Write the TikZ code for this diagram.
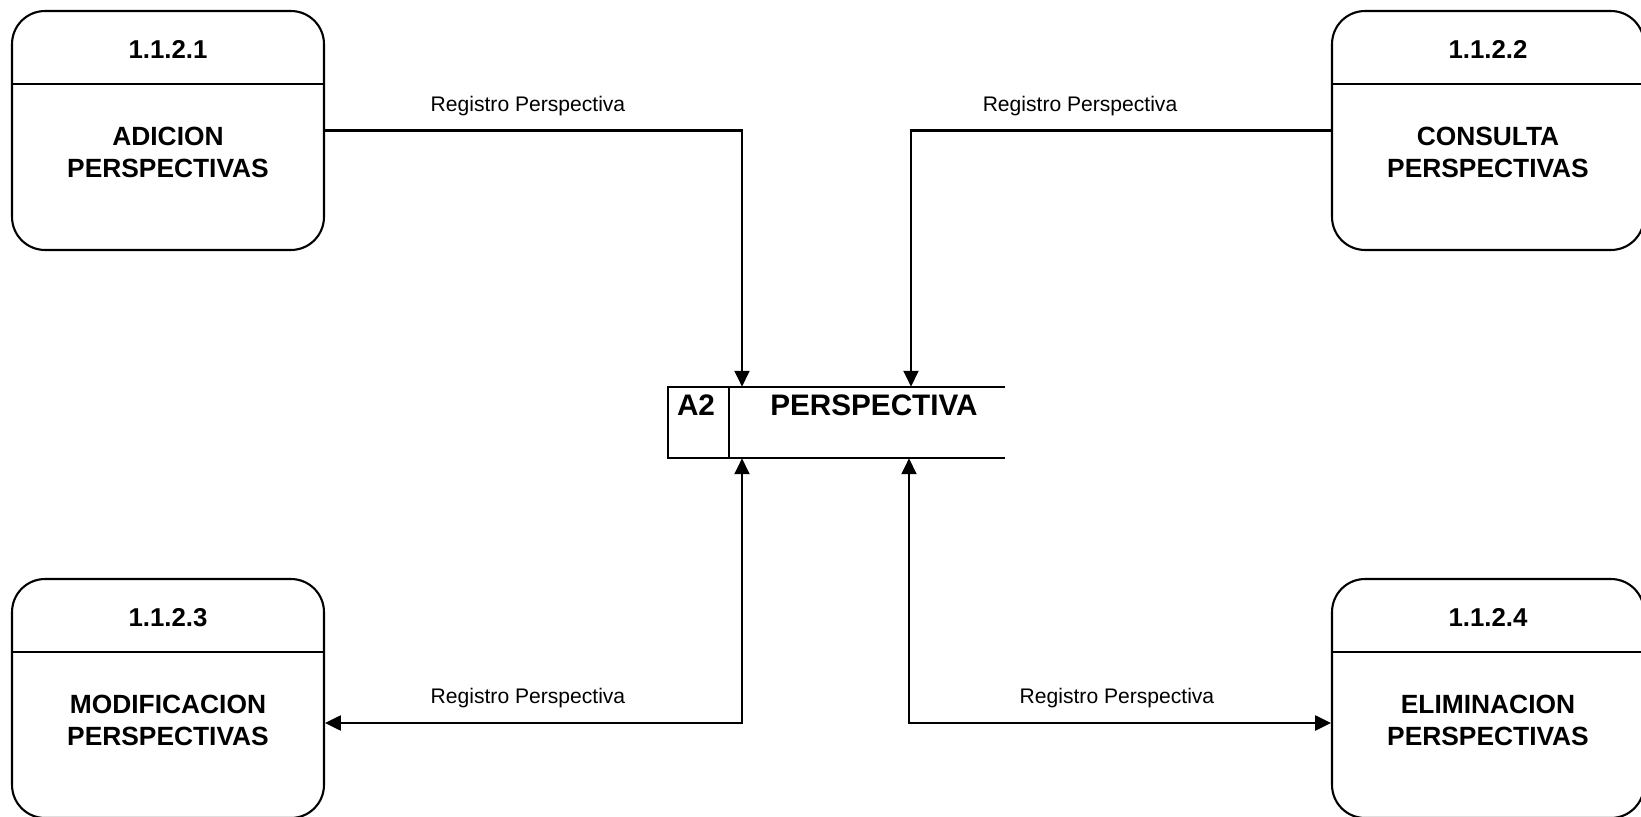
\documentclass[tikz,border=0pt]{standalone}
\usepackage{fontspec}
\setmainfont{Liberation Sans}
\usetikzlibrary{positioning, calc, arrows.meta}

\begin{document}
\begin{tikzpicture}[
    x=0.02cm, y=-0.02cm,
    process/.style={draw=black, line width=1.2pt, rounded corners=0.66cm, minimum width=6.24cm, minimum height=4.78cm, inner sep=0pt},
    ptitle/.style={font=\fontsize{14.7}{18}\selectfont\bfseries},
    pbody/.style={font=\fontsize{15}{18.4}\selectfont\bfseries, align=center},
    storebox/.style={minimum width=6.74cm, minimum height=1.42cm, inner sep=0pt},
    stext/.style={font=\fontsize{16.9}{20}\selectfont\bfseries},
    flow/.style={line width=1.3pt, -{Triangle[length=9pt, width=8.5pt]}},
    flowboth/.style={line width=1.3pt, {Triangle[length=9pt, width=8.5pt]}-{Triangle[length=9pt, width=8.5pt]}},
    flowlabel/.style={font=\fontsize{12}{14}\selectfont}
]

    \useasboundingbox (0,0) rectangle (1641,817);

    % Processes
    \foreach \name/\cx/\cy/\num/\txt in {
        adicion/168/130.5/1.1.2.1/{ADICION\\PERSPECTIVAS},
        consulta/1488/130.5/1.1.2.2/{CONSULTA\\PERSPECTIVAS},
        modificacion/168/698.5/1.1.2.3/{MODIFICACION\\PERSPECTIVAS},
        eliminacion/1488/698.5/1.1.2.4/{ELIMINACION\\PERSPECTIVAS}} {
        \node[process] (\name) at (\cx,\cy) {};
        \draw[line width=1.2pt] ([yshift=-1.48cm]\name.north west) -- ([yshift=-1.48cm]\name.north east);
        \node[ptitle] (\name-num) at ([yshift=-0.8cm]\name.north) {\num};
        \node[pbody] (\name-txt) at ([yshift=-2.85cm]\name.north) {\txt};
    }

    % Data store
    \node[storebox] (perspectiva) at (836.5,422.5) {};
    \draw[line width=1.2pt] (perspectiva.north east) -- (perspectiva.north west)
        -- (perspectiva.south west) -- (perspectiva.south east);
    \draw[line width=1.2pt] (729,0 |- perspectiva.north) -- (729,0 |- perspectiva.south);
    \node[stext] (store-id) at (696,405) {A2};
    \node[stext] (store-name) at (874,405) {PERSPECTIVA};

    % Flows
    \draw[flow] (adicion.east) -| (742,0 |- perspectiva.north);
    \draw[flow] (consulta.west) -| (911,0 |- perspectiva.north);
    \draw[flowboth] (modificacion.east |- 0,723) -| (742,0 |- perspectiva.south);
    \draw[flowboth] (909,0 |- perspectiva.south) |- (eliminacion.west |- 0,723);

    % Flow labels
    \node[flowlabel] (lbl-adicion) at (528,106) {Registro Perspectiva};
    \node[flowlabel] (lbl-consulta) at (1080,106) {Registro Perspectiva};
    \node[flowlabel] (lbl-modificacion) at (528,698) {Registro Perspectiva};
    \node[flowlabel] (lbl-eliminacion) at (1117,698) {Registro Perspectiva};

\end{tikzpicture}
\end{document}
